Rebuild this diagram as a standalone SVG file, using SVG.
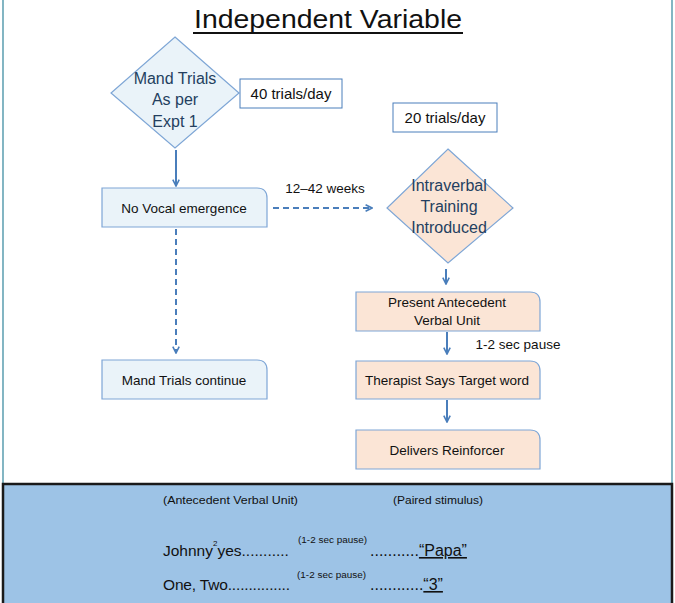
<svg xmlns="http://www.w3.org/2000/svg" width="675" height="603" viewBox="0 0 675 603">
<defs>
<style>
.t{font-family:"Liberation Sans","Open Sans",sans-serif;fill:#111;}
.dt{font-family:"Liberation Sans","Open Sans",sans-serif;fill:#243F60;font-size:16px;text-anchor:middle;}
.bt{font-family:"Liberation Sans","Open Sans",sans-serif;fill:#111;font-size:13.5px;text-anchor:middle;}
.blue{fill:#EAF3F9;stroke:#7EA6D6;stroke-width:1.2;}
.peach{fill:#FBE5D6;stroke:#7EA6D6;stroke-width:1.2;}
.lab{fill:#fff;stroke:#4A7EBB;stroke-width:1;}
.conn{stroke:#4A7EBB;stroke-width:2;fill:none;}
.dash{stroke-dasharray:6 4;}
</style>
<marker id="ah" viewBox="0 0 10 10" refX="9" refY="5" markerWidth="4" markerHeight="4" orient="auto">
<path d="M1,1 L9,5 L1,9" fill="none" stroke="#4A7EBB" stroke-width="2"/>
</marker>
</defs>
<rect width="675" height="603" fill="#fff"/>
<rect x="3" y="-2" width="669" height="490" fill="none" stroke="#31859C" stroke-width="1.2"/>

<g id="title">
<text class="t" x="328" y="28" font-size="25" text-anchor="middle" textLength="268" lengthAdjust="spacingAndGlyphs">Independent Variable</text>
<line x1="193" y1="33" x2="463" y2="33" stroke="#111" stroke-width="1.8"/>
</g>

<g id="connectors">
<line class="conn" x1="176" y1="150" x2="176" y2="186" marker-end="url(#ah)"/>
<line class="conn dash" x1="273" y1="208" x2="372" y2="208" marker-end="url(#ah)"/>
<line class="conn dash" x1="176" y1="229" x2="176" y2="353" marker-end="url(#ah)"/>
<line class="conn" x1="446" y1="269" x2="446" y2="284" marker-end="url(#ah)"/>
<line class="conn" x1="447" y1="332" x2="447" y2="354" marker-end="url(#ah)"/>
<line class="conn" x1="447" y1="400" x2="447" y2="422" marker-end="url(#ah)"/>
<text class="t" x="325" y="193" font-size="13.5" text-anchor="middle">12–42 weeks</text>
<text class="t" x="518" y="349" font-size="13.5" text-anchor="middle">1-2 sec pause</text>
</g>

<g id="mand-trials">
<polygon class="blue" points="175,37 239,93 175,148 111,93" stroke="#5B8DC6"/>
<text class="dt" x="175" y="84">Mand Trials</text>
<text class="dt" x="175" y="105">As per</text>
<text class="dt" x="175" y="127">Expt 1</text>
</g>

<g id="label-40">
<rect class="lab" x="240" y="79" width="102" height="29"/>
<text class="t" x="291" y="99" font-size="15" text-anchor="middle">40 trials/day</text>
</g>

<g id="label-20">
<rect class="lab" x="393" y="103" width="104" height="29"/>
<text class="t" x="445" y="123" font-size="15" text-anchor="middle">20 trials/day</text>
</g>

<g id="intraverbal">
<polygon class="peach" points="448,149 513,208 448,263 387,208" stroke="#5B8DC6"/>
<text class="dt" x="449" y="191">Intraverbal</text>
<text class="dt" x="449" y="212">Training</text>
<text class="dt" x="449" y="233">Introduced</text>
</g>

<g id="no-vocal">
<path class="blue" d="M102,188 H257 Q267,188 267,198 V227 H102 Z"/>
<text class="bt" x="184" y="213">No Vocal emergence</text>
</g>

<g id="mand-continue">
<path class="blue" d="M102,360 H257 Q267,360 267,370 V399 H102 Z"/>
<text class="bt" x="184" y="385">Mand Trials continue</text>
</g>

<g id="present-antecedent">
<path class="peach" d="M356,292 H530 Q540,292 540,302 V331 H356 Z"/>
<text class="bt" x="447" y="307">Present Antecedent</text>
<text class="bt" x="447" y="325">Verbal Unit</text>
</g>

<g id="therapist-says">
<path class="peach" d="M356,361 H530 Q540,361 540,371 V399 H356 Z"/>
<text class="bt" x="447" y="385">Therapist Says Target word</text>
</g>

<g id="delivers">
<path class="peach" d="M356,430 H530 Q540,430 540,440 V469 H356 Z"/>
<text class="bt" x="447" y="455">Delivers Reinforcer</text>
</g>

<g id="example-panel">
<rect x="3" y="484" width="669" height="121" fill="#9DC3E6" stroke="#1a1a1a" stroke-width="2.5"/>
<text class="t" x="163" y="504" font-size="10" textLength="135" lengthAdjust="spacingAndGlyphs">(Antecedent Verbal Unit)</text>
<text class="t" x="393" y="504" font-size="10" textLength="90" lengthAdjust="spacingAndGlyphs">(Paired stimulus)</text>
<text class="t" x="163" y="556" font-size="15.5">Johnny<tspan font-size="8" dy="-10">2</tspan><tspan dy="10">yes...........</tspan></text>
<text class="t" x="298" y="543" font-size="8.5" textLength="69" lengthAdjust="spacingAndGlyphs">(1-2 sec pause)</text>
<text class="t" x="370" y="556" font-size="16">...........<tspan text-decoration="underline">“Papa”</tspan></text>
<text class="t" x="163" y="590" font-size="15.5" textLength="127" lengthAdjust="spacing">One, Two...............</text>
<text class="t" x="297" y="578" font-size="8.5" textLength="69" lengthAdjust="spacingAndGlyphs">(1-2 sec pause)</text>
<text class="t" x="370" y="590" font-size="16">............<tspan text-decoration="underline">“3”</tspan></text>
</g>
</svg>
